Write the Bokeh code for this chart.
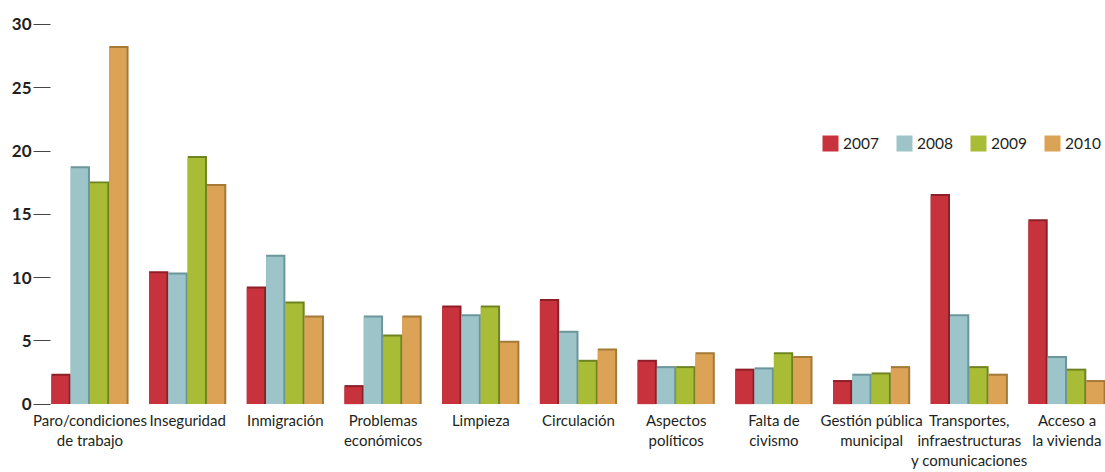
import numpy as np
from bokeh.plotting import figure
from bokeh.models import Range1d, FixedTicker, Legend, LegendItem, ColumnDataSource
from bokeh.core.properties import value
from bokeh.embed import file_html
from bokeh.resources import INLINE

categories = ["Paro/condiciones\nde trabajo", "Inseguridad", "Inmigración", "Problemas\neconómicos",
              "Limpieza", "Circulación", "Aspectos\npolíticos", "Falta de\ncivismo",
              "Gestión pública\nmunicipal", "Transportes,\ninfraestructuras\ny comunicaciones",
              "Acceso a\nla vivienda"]
years = ["2007", "2008", "2009", "2010"]
v2007 = [2.4, 10.5, 9.3, 1.5, 7.8, 8.3, 3.5, 2.8, 1.9, 16.6, 14.6]
v2008 = [18.8, 10.4, 11.8, 7.0, 7.1, 5.8, 3.0, 2.9, 2.4, 7.1, 3.8]
v2009 = [17.6, 19.6, 8.1, 5.5, 7.8, 3.5, 3.0, 4.1, 2.5, 3.0, 2.8]
v2010 = [28.3, 17.4, 7.0, 7.0, 5.0, 4.4, 4.1, 3.8, 3.0, 2.4, 1.9]
y_ticks = [0, 5, 10, 15, 20, 25, 30]

series = [v2007, v2008, v2009, v2010]
face = ["#C8323C", "#9CC4C9", "#A8BD35", "#DCA256"]
side = ["#8E1F27", "#6A969C", "#6F8420", "#A57936"]

FONT = "Lato"
W, H = 1105, 472
p = figure(width=W, height=H, output_backend="svg", toolbar_location=None,
           x_range=Range1d(-0.578, 10.394), y_range=Range1d(-5.408, 31.895),
           min_border_left=33, min_border_right=0, min_border_top=0, min_border_bottom=0)
p.outline_line_color = None
p.grid.visible = False
p.xaxis.visible = False

px_x = 1 / 97.7
px_y = 1 / 12.667
bw = 19.3 * px_x
xs = np.arange(len(categories))
items = []
for k, vals in enumerate(series):
    vals = np.array(vals, dtype=float)
    cx = xs + (k - 1.5) * bw
    p.vbar(x=cx, top=vals, bottom=0, width=bw, fill_color=side[k], line_color=None)
    r = p.vbar(x=cx - 1.0 * px_x, top=vals - 2 * px_y, bottom=0, width=bw - 2 * px_x,
               fill_color=face[k], line_color=None)
    items.append(LegendItem(label=years[k], renderers=[r]))

src = ColumnDataSource(dict(x=xs, y=np.zeros(len(categories)), t=categories))
p.text(x="x", y="y", text="t", source=src, text_align="center", text_baseline="top",
       y_offset=7, text_font=value(FONT), text_font_size="15px",
       text_color="#231F20", text_line_height=1.12)

ax = p.yaxis[0]
ax.ticker = FixedTicker(ticks=y_ticks)
ax.axis_line_color = None
ax.major_tick_in = 17
ax.major_tick_out = 0
ax.minor_tick_line_color = None
ax.major_tick_line_color = "#444444"
ax.major_label_standoff = 2
ax.major_label_text_font = FONT
ax.major_label_text_font_style = "bold"
ax.major_label_text_font_size = "17px"
ax.major_label_text_color = "#231F20"

legend = Legend(items=items, orientation="horizontal", location=(787, 319),
                glyph_width=20, glyph_height=20, label_standoff=3, spacing=15,
                padding=0, margin=0, border_line_alpha=0, background_fill_alpha=0,
                label_text_font=FONT, label_text_font_size="15.5px",
                label_text_color="#231F20")
p.add_layout(legend)

open("out.html", "w").write(file_html(p, INLINE))
